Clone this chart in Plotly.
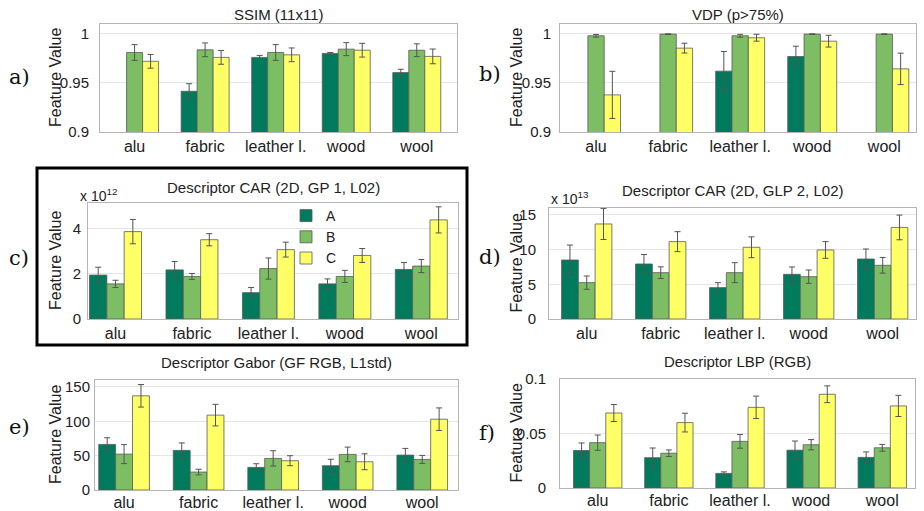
import plotly.graph_objects as go

W, H = 924, 511

categories = ["alu", "fabric", "leather l.", "wood", "wool"]
series_names = ["A", "B", "C"]
colors = ["#007a5c", "#7dbd63", "#ffff66"]

# a) SSIM (11x11)
ssim_A = [None, 0.9415, 0.976, 0.980, 0.9605]
ssim_B = [0.981, 0.9837, 0.981, 0.9844, 0.9833]
ssim_C = [0.972, 0.976, 0.9786, 0.9833, 0.977]
ssim_eA = [0, 0.0077, 0.002, 0.001, 0.0034]
ssim_eB = [0.008, 0.007, 0.008, 0.0066, 0.0065]
ssim_eC = [0.007, 0.007, 0.007, 0.007, 0.0075]

# b) VDP (p>75%)
vdp_A = [None, None, 0.962, 0.9769, None]
vdp_B = [0.998, 0.9997, 0.998, 0.9997, 0.9997]
vdp_C = [0.9378, 0.9854, 0.996, 0.9925, 0.9643]
vdp_eA = [0, 0, 0.02, 0.0105, 0]
vdp_eB = [0.0014, 0.0003, 0.0015, 0.0003, 0.0003]
vdp_eC = [0.024, 0.005, 0.0035, 0.006, 0.016]

# c) Descriptor CAR (2D, GP 1, L02)  [x 1e12]
car1_A = [1.95e12, 2.18e12, 1.17e12, 1.56e12, 2.20e12]
car1_B = [1.56e12, 1.89e12, 2.24e12, 1.89e12, 2.35e12]
car1_C = [3.88e12, 3.52e12, 3.08e12, 2.82e12, 4.40e12]
car1_eA = [0.35e12, 0.37e12, 0.23e12, 0.22e12, 0.31e12]
car1_eB = [0.16e12, 0.13e12, 0.47e12, 0.27e12, 0.29e12]
car1_eC = [0.54e12, 0.27e12, 0.33e12, 0.31e12, 0.58e12]

# d) Descriptor CAR (2D, GLP 2, L02)  [x 1e13]
car2_A = [8.5e13, 7.93e13, 4.52e13, 6.44e13, 8.65e13]
car2_B = [5.24e13, 6.68e13, 6.68e13, 6.10e13, 7.74e13]
car2_C = [13.7e13, 11.15e13, 10.34e13, 9.95e13, 13.2e13]
car2_eA = [2.16e13, 1.37e13, 0.72e13, 1.06e13, 1.44e13]
car2_eB = [0.96e13, 0.84e13, 1.44e13, 0.96e13, 1.13e13]
car2_eC = [2.24e13, 1.44e13, 1.5e13, 1.2e13, 1.78e13]

# e) Descriptor Gabor (GF RGB, L1std)
gab_A = [66.3, 57.6, 32.9, 35.3, 50.8]
gab_B = [52.2, 26.1, 46.0, 51.8, 44.5]
gab_C = [137.0, 108.9, 42.6, 41.1, 103.0]
gab_eA = [9.7, 10.9, 5.3, 9.4, 9.7]
gab_eB = [13.8, 4.1, 11.1, 10.6, 5.8]
gab_eC = [16.4, 15.7, 7.3, 11.6, 16.4]

# f) Descriptor LBP (RGB)
lbp_A = [0.0344, 0.0278, 0.0134, 0.0347, 0.0281]
lbp_B = [0.0416, 0.0319, 0.0428, 0.0397, 0.0369]
lbp_C = [0.0688, 0.0600, 0.0740, 0.0860, 0.0753]
lbp_eA = [0.0069, 0.0089, 0.0014, 0.0084, 0.0050]
lbp_eB = [0.0070, 0.0030, 0.0063, 0.0047, 0.0031]
lbp_eC = [0.0078, 0.0086, 0.0103, 0.0077, 0.0097]

panel_titles = ["SSIM (11x11)", "VDP (p>75%)", "Descriptor CAR (2D, GP 1, L02)",
                "Descriptor CAR (2D, GLP 2, L02)", "Descriptor Gabor (GF RGB, L1std)",
                "Descriptor LBP (RGB)"]
panel_letters = ["a)", "b)", "c)", "d)", "e)", "f)"]
y_title = "Feature Value"

y_ranges = [[0.9, 1.01], [0.9, 1.01], [0, 5.15e12], [0, 16e13], [0, 160], [0, 0.1]]
y_tickvals = [[0.9, 0.95, 1.0], [0.9, 0.95, 1.0], [0, 2e12, 4e12],
              [0, 5e13, 10e13, 15e13], [0, 50, 100, 150], [0, 0.05, 0.1]]
y_ticktext = [["0.9", "0.95", "1"], ["0.9", "0.95", "1"], ["0", "2", "4"],
              ["0", "5", "10", "15"], ["0", "50", "100", "150"], ["0", "0.05", "0.1"]]
exponents = ["", "", "12", "13", "", ""]

panels = [
    ([ssim_A, ssim_B, ssim_C], [ssim_eA, ssim_eB, ssim_eC]),
    ([vdp_A, vdp_B, vdp_C], [vdp_eA, vdp_eB, vdp_eC]),
    ([car1_A, car1_B, car1_C], [car1_eA, car1_eB, car1_eC]),
    ([car2_A, car2_B, car2_C], [car2_eA, car2_eB, car2_eC]),
    ([gab_A, gab_B, gab_C], [gab_eA, gab_eB, gab_eC]),
    ([lbp_A, lbp_B, lbp_C], [lbp_eA, lbp_eB, lbp_eC]),
]

# layout (pixels): plot boxes (left, top, right, bottom), x ranges, text centers
boxes = [(100, 24, 457, 132), (560, 24, 916, 132),
         (88, 203, 458, 319), (549, 208, 916, 319),
         (95, 380, 458, 490), (560, 379, 915, 488)]
x_ranges = [[-0.49, 4.57], [-0.50, 4.44], [-0.36, 4.48],
            [-0.51, 4.45], [-0.39, 4.48], [-0.53, 4.46]]
title_y = [14, 14, 187, 190, 362, 361]
ytitle_x = [55, 516, 55, 516, 55, 516]
letter_pos = [(7, 77), (477, 74), (7, 258), (477, 257), (7, 427), (477, 433)]
exp_pos = [None, None, (78, 195), (549, 198), None, None]
xlabel_standoff = [0, 0, 0, 0, -2, -2]
ylabel_standoff = [7, 5, 3, 9, 1, 10]

def px(x):
    return x / W

def py(y):
    return 1 - y / H

fig = go.Figure()
text_color = "#222222"
font_sans = "Liberation Sans, Arial, sans-serif"

for i, ((vals, errs), box) in enumerate(zip(panels, boxes)):
    n = i + 1
    xa = "x" if n == 1 else f"x{n}"
    ya = "y" if n == 1 else f"y{n}"
    for s in range(3):
        fig.add_trace(go.Bar(
            x=categories, y=vals[s], name=series_names[s],
            marker=dict(color=colors[s], line=dict(color="#5a5a5a", width=0.8)),
            error_y=dict(type="data", array=errs[s], visible=True,
                         color="#555555", thickness=1, width=3),
            xaxis=xa, yaxis=ya, offsetgroup=str(s),
            showlegend=(n == 3), legendgroup=series_names[s],
        ))
    l, t, r, b = box
    xkey = "xaxis" if n == 1 else f"xaxis{n}"
    ykey = "yaxis" if n == 1 else f"yaxis{n}"
    fig.layout[xkey] = dict(
        domain=[px(l), px(r)], anchor=ya, showgrid=False, range=x_ranges[i],
        showline=True, linecolor="#b5b5b5", linewidth=1, mirror=True, automargin=False,
        ticks="", ticklabelstandoff=xlabel_standoff[i],
        tickfont=dict(size=16, color=text_color, family=font_sans),
        fixedrange=True,
    )
    fig.layout[ykey] = dict(
        domain=[py(b), py(t)], anchor=xa, range=y_ranges[i],
        tickvals=y_tickvals[i], ticktext=y_ticktext[i], automargin=False,
        showgrid=True, gridcolor="#e6e6e6", gridwidth=1, zeroline=False,
        showline=True, linecolor="#b5b5b5", linewidth=1, mirror=True,
        ticks="", ticklabelstandoff=ylabel_standoff[i],
        tickfont=dict(size=15, color=text_color, family=font_sans),
    )
    # y-axis title (placed at a fixed column position, as in the reference)
    fig.add_annotation(text=y_title, xref="paper", yref="paper", textangle=-90,
                       x=px(ytitle_x[i]), y=py((t + b) / 2), xanchor="center", yanchor="middle",
                       showarrow=False, font=dict(size=16, color=text_color, family=font_sans))
    # panel title
    fig.add_annotation(text=panel_titles[i], xref="paper", yref="paper",
                       x=px((l + r) / 2), y=py(title_y[i]), xanchor="center", yanchor="middle",
                       showarrow=False, font=dict(size=15, color=text_color, family=font_sans))
    # panel letter
    lx, ly = letter_pos[i]
    fig.add_annotation(text=panel_letters[i], xref="paper", yref="paper",
                       x=px(lx), y=py(ly), xanchor="left", yanchor="middle",
                       showarrow=False,
                       font=dict(size=21, color="#111111", family="DejaVu Serif, serif"))
    if exponents[i]:
        ex, ey = exp_pos[i]
        fig.add_annotation(text=f"x 10<sup>{exponents[i]}</sup>", xref="paper", yref="paper",
                           x=px(ex), y=py(ey), xanchor="left", yanchor="middle",
                           showarrow=False,
                           font=dict(size=14, color=text_color, family=font_sans))

# black frame around panel c
fig.add_shape(type="rect", xref="paper", yref="paper",
              x0=px(37), x1=px(467), y0=py(168), y1=py(345),
              line=dict(color="black", width=3), fillcolor="rgba(0,0,0,0)")

fig.update_layout(
    width=W, height=H, margin=dict(l=0, r=0, t=0, b=0, autoexpand=False),
    paper_bgcolor="white", plot_bgcolor="white",
    barmode="group", bargap=0.32, bargroupgap=0,
    showlegend=True,
    legend=dict(x=px(286), y=py(200), xanchor="left", yanchor="top",
                bgcolor="rgba(255,255,255,0)", borderwidth=0,
                font=dict(size=14, color=text_color, family=font_sans),
                tracegroupgap=0, itemclick=False),
)

# remove the default 8px page margin so the figure fills the window exactly
fig.write_html("out.html",
               config={"displayModeBar": False},
               post_script="document.body.style.margin='0';document.body.style.overflow='hidden';")
